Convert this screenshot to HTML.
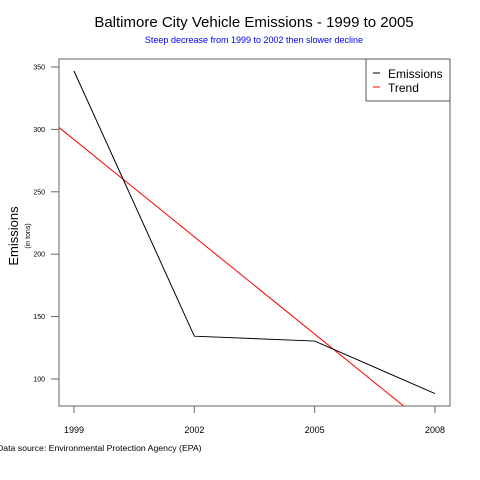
<!DOCTYPE html>
<html><head><meta charset="utf-8"><style>
body{margin:0;background:#fff;}
svg{display:block;font-family:"Liberation Sans",sans-serif;}
</style></head><body>
<svg id="chart" width="480" height="480" viewBox="0 0 480 480">
<rect width="480" height="480" fill="#fff"/>
<text x="254" y="27" font-size="15" text-anchor="middle">Baltimore City Vehicle Emissions - 1999 to 2005</text>
<text x="254" y="43" font-size="9" fill="#0000ff" text-anchor="middle">Steep decrease from 1999 to 2002 then slower decline</text>
<rect x="59" y="59" width="391" height="347" fill="none" stroke="#666" stroke-width="1"/>
<g id="yaxis"></g>
<g id="xaxis"></g>
<text transform="translate(18,236) rotate(-90)" font-size="13" text-anchor="middle">Emissions</text>
<text transform="translate(30,236) rotate(-90)" font-size="7" text-anchor="middle">(in tons)</text>
<g id="series"></g>
<g>
<rect x="366" y="59" width="84" height="42" fill="#fff" stroke="#555" stroke-width="1"/>
<line x1="373" x2="380" y1="73" y2="73" stroke="#000"/>
<text x="388" y="78" font-size="12">Emissions</text>
<line x1="373" x2="380" y1="87" y2="87" stroke="#f00"/>
<text x="388" y="92" font-size="12">Trend</text>
</g>
<text x="-3" y="451" font-size="8.7">Data source: Environmental Protection Agency (EPA)</text>
</svg>
<script>
const years = [1999, 2002, 2005, 2008];
const emissions = [346.8, 134.3, 130.4, 88.3];
const yTicks = [100, 150, 200, 250, 300, 350];
const xTicks = [1999, 2002, 2005, 2008];
const NS = "http://www.w3.org/2000/svg";
const L = 59, R = 450, T = 59, B = 406;
function xs(v){ return 74 + (v - 1999) * (435 - 74) / 9; }
function ys(v){ return 379 - (v - 100) * (379 - 67) / 250; }
function mk(tag, attrs, parent){ const e = document.createElementNS(NS, tag); for (const k in attrs) e.setAttribute(k, attrs[k]); parent.appendChild(e); return e; }
const ya = document.getElementById('yaxis');
mk('line', {x1:L, x2:L, y1:ys(yTicks[0]), y2:ys(yTicks[yTicks.length-1]), stroke:'#666'}, ya);
yTicks.forEach(t => {
  const y = ys(t);
  const tk = mk('line', {x1:51, x2:L, y1:y, y2:y, stroke:'#666'}, ya);
  
  
  const tx = mk('text', {x:45, y:y+2.5, 'font-size':7, 'text-anchor':'end'}, ya);
  tx.textContent = t;
  
  
});
const xa = document.getElementById('xaxis');
xTicks.forEach(t => {
  const x = xs(t);
  const tk = mk('line', {x1:x, x2:x, y1:B, y2:B+7, stroke:'#666'}, xa);
  
  
  const tx = mk('text', {x:x, y:433, 'font-size':9, 'text-anchor':'middle'}, xa);
  tx.textContent = t;
  
  
});
const sg = document.getElementById('series');
const n = years.length;
const mx = years.reduce((a,b)=>a+b,0)/n, my = emissions.reduce((a,b)=>a+b,0)/n;
let sxy = 0, sxx = 0;
for (let i=0;i<n;i++){ sxy += (years[i]-mx)*(emissions[i]-my); sxx += (years[i]-mx)**2; }
const slope = sxy/sxx, icpt = my - slope*mx;
const yr0 = 1999 + (L - 74) * 9 / (435 - 74), yr1 = 1999 + (R - 74) * 9 / (435 - 74);
const clip = mk('clipPath', {id:'pc'}, sg);
mk('rect', {x:L, y:T, width:R-L, height:B-T}, clip);
const tr = mk('line', {x1:xs(yr0), y1:ys(icpt+slope*yr0), x2:xs(yr1), y2:ys(icpt+slope*yr1), stroke:'#f00', 'stroke-width':1, 'clip-path':'url(#pc)'}, sg);


const pl = mk('polyline', {points: years.map((y,i)=>xs(y)+','+ys(emissions[i])).join(' '), fill:'none', stroke:'#000', 'stroke-width':1}, sg);


</script>
</body></html>
